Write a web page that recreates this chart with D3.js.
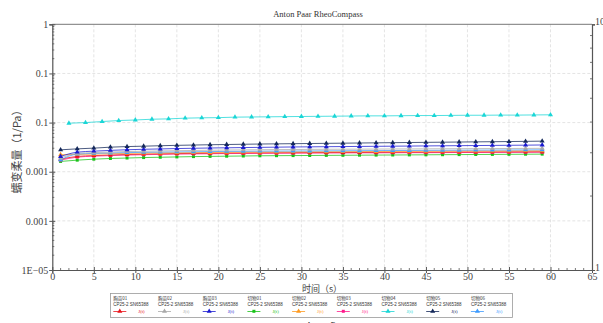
<!DOCTYPE html>
<html><head><meta charset="utf-8">
<script src="https://cdn.jsdelivr.net/npm/d3@7"></script>
<style>body{margin:0;background:#fff}svg{display:block}</style>
</head><body>
<svg id="c" width="603" height="323"></svg>
<script>
const title = "Anton Paar RheoCompass";
const footer = "Anton Paar";
const xLabel = "时间（s）";
const yLabel = "蠕变柔量（1/Pa）";
const xTicks = [0,5,10,15,20,25,30,35,40,45,50,55,60,65];
const yTicks = [1,0.1,0.01,0.001,0.0001,0.00001];
const yTickLabels = ["1","0.1","0.1","0.001","0.001","1E−05"];
const rightTickLabels = ["10","1"];
const tOdd = [1,3,5,7,9,11,13,15,17,19,21,23,25,27,29,31,33,35,37,39,41,43,45,47,49,51,53,55,57,59];
const tEven = [2,4,6,8,10,12,14,16,18,20,22,24,26,28,30,32,34,36,38,40,42,44,46,48,50,52,54,56,58,60];
const names = ["胸苗01","胸苗02","胸苗03","切物01","切物02","切物03","切物04","切物05","切物06"];
const device = "CP25-2 SN65388";
const seriesLabel = "J(t)";
const colors = ["#e8141b","#a9a9a9","#1a1ad0","#19c219","#ff9a1f","#ff1a8c","#1ad6d6","#14285a","#3d9bff"];
const shapes = ["tri","tri","tri","sq","tri","sq","tri","tri","tri"];
const sRed   = [0.00180,0.00205,0.00213,0.00219,0.00224,0.00228,0.00231,0.00234,0.00236,0.00238,0.00240,0.00241,0.00242,0.00243,0.00244,0.00245,0.00246,0.00247,0.00247,0.00248,0.00249,0.00250,0.00250,0.00251,0.00252,0.00252,0.00253,0.00254,0.00254,0.00255];
const sGray  = [0.00190,0.00235,0.00245,0.00252,0.00257,0.00261,0.00265,0.00268,0.00271,0.00274,0.00276,0.00278,0.00280,0.00282,0.00283,0.00285,0.00286,0.00287,0.00288,0.00289,0.00290,0.00291,0.00292,0.00293,0.00294,0.00295,0.00296,0.00297,0.00298,0.00299];
const sBlue  = [0.00204,0.00250,0.00262,0.00272,0.00280,0.00286,0.00291,0.00296,0.00300,0.00304,0.00307,0.00310,0.00313,0.00316,0.00319,0.00321,0.00323,0.00325,0.00327,0.00329,0.00331,0.00333,0.00335,0.00337,0.00339,0.00341,0.00343,0.00345,0.00347,0.00350];
const sGreen = [0.00162,0.00172,0.00180,0.00186,0.00190,0.00194,0.00197,0.00200,0.00203,0.00205,0.00207,0.00209,0.00211,0.00212,0.00213,0.00214,0.00215,0.00216,0.00217,0.00218,0.00219,0.00220,0.00221,0.00222,0.00223,0.00224,0.00225,0.00226,0.00227,0.00228];
const sOrange= [0.00222,0.00225,0.00229,0.00233,0.00236,0.00239,0.00241,0.00243,0.00245,0.00247,0.00249,0.00250,0.00251,0.00252,0.00253,0.00254,0.00255,0.00256,0.00257,0.00258,0.00259,0.00260,0.00261,0.00262,0.00263,0.00264,0.00264,0.00265,0.00266,0.00267];
const sPink  = [0.00172,0.00198,0.00207,0.00213,0.00218,0.00222,0.00225,0.00228,0.00230,0.00232,0.00234,0.00235,0.00236,0.00237,0.00238,0.00239,0.00240,0.00241,0.00242,0.00242,0.00243,0.00244,0.00244,0.00245,0.00246,0.00246,0.00247,0.00247,0.00248,0.00249];
const sCyan  = [0.0097,0.0100,0.0105,0.0110,0.0113,0.0117,0.0119,0.0123,0.0125,0.0126,0.0129,0.0130,0.0131,0.0132,0.0133,0.0134,0.0135,0.0136,0.0137,0.0137,0.0138,0.0139,0.0139,0.0140,0.0141,0.0141,0.0142,0.0142,0.0143,0.0144];
const sNavy  = [0.00279,0.00292,0.00302,0.00316,0.00325,0.00331,0.00338,0.00344,0.00349,0.00354,0.00358,0.00362,0.00366,0.00369,0.00372,0.00375,0.00378,0.00381,0.00384,0.00387,0.00390,0.00393,0.00396,0.00399,0.00402,0.00405,0.00408,0.00411,0.00415,0.00419];
const sLight = [0.00175,0.00228,0.00236,0.00241,0.00245,0.00248,0.00251,0.00253,0.00255,0.00257,0.00259,0.00260,0.00262,0.00263,0.00264,0.00265,0.00266,0.00267,0.00268,0.00269,0.00270,0.00271,0.00272,0.00273,0.00274,0.00275,0.00276,0.00277,0.00278,0.00279];
const seriesValues = [sRed,sGray,sBlue,sGreen,sOrange,sPink,sCyan,sNavy,sLight];
const seriesTimes = [tOdd,tOdd,tOdd,tOdd,tOdd,tOdd,tEven,tOdd,tOdd];

const svg = d3.select("#c");
const L=52.3, R=592, T=24.3, B=270;
const x = d3.scaleLinear().domain([0,65]).range([L,R]);
const y = d3.scaleLog().domain([1e-5,1]).range([B,T]);
const yR = d3.scaleLog().domain([1,10]).range([B,T]);
const serif = "'Liberation Serif','DejaVu Serif',serif";
const cjk = "'Noto Sans CJK SC',sans-serif";

// grid
const g = svg.append("g");
g.selectAll(".vg").data(xTicks.filter(d=>d>0&&d<65)).enter().append("line")
 .attr("x1",d=>x(d)).attr("x2",d=>x(d)).attr("y1",T).attr("y2",B)
 .attr("stroke","#dddddd").attr("stroke-width",0.8).attr("stroke-dasharray","3,2");
g.selectAll(".hg").data(yTicks.filter(d=>d<1&&d>1e-5)).enter().append("line")
 .attr("x1",L).attr("x2",R).attr("y1",d=>y(d)).attr("y2",d=>y(d))
 .attr("stroke","#dddddd").attr("stroke-width",0.8).attr("stroke-dasharray","3,2");
// top border
svg.append("line").attr("x1",L).attr("x2",R).attr("y1",T).attr("y2",T).attr("stroke","#777").attr("stroke-width",1);

// axes
const xAxis = d3.axisBottom(x).tickValues(xTicks).tickSize(3).tickFormat(d=>d);
const gx = svg.append("g").attr("transform",`translate(0,${B})`).call(xAxis);
gx.select(".domain").attr("stroke","#555");
gx.selectAll(".tick line").attr("stroke","#555").attr("y1",-3);
gx.selectAll("text").attr("font-family",serif).attr("font-size",10).attr("fill","#444").attr("y",3).attr("dy","0.71em");
const minorX = d3.range(0,66,1).filter(d=>d%5!==0);
svg.append("g").selectAll("line").data(minorX).enter().append("line")
 .attr("x1",d=>x(d)).attr("x2",d=>x(d)).attr("y1",B-2).attr("y2",B).attr("stroke","#555").attr("stroke-width",0.8);

const yAxis = d3.axisLeft(y).tickValues(yTicks).tickSize(3).tickFormat((d,i)=>yTickLabels[i]);
const gy = svg.append("g").attr("transform",`translate(${L},0)`).call(yAxis);
gy.select(".domain").attr("stroke","#555").attr("stroke-width",1.2);
gy.selectAll(".tick line").attr("stroke","#555").attr("x2",3).attr("x1",-3);
gy.selectAll("text").attr("font-family",serif).attr("font-size",10).attr("fill","#444").attr("x",-4);
const minorY=[];
[1e-5,1e-4,1e-3,1e-2,1e-1].forEach(b=>{for(let k=2;k<10;k++)minorY.push(b*k);});
svg.append("g").selectAll("line").data(minorY).enter().append("line")
 .attr("x1",L).attr("x2",L+2).attr("y1",d=>y(d)).attr("y2",d=>y(d)).attr("stroke","#555").attr("stroke-width",0.8);

// right axis
const yRAxis = d3.axisRight(yR).tickValues([10,1]).tickSize(3).tickFormat((d,i)=>rightTickLabels[i]);
const gr = svg.append("g").attr("transform",`translate(${R},0)`).call(yRAxis);
gr.select(".domain").attr("stroke","#555").attr("stroke-width",1.2);
gr.selectAll(".tick line").attr("stroke","#555");
gr.selectAll("text").attr("font-family",serif).attr("font-size",10).attr("fill","#444").attr("x",3).attr("dy","0.05em");
const minorR = d3.range(2,10);
svg.append("g").selectAll("line").data(minorR).enter().append("line")
 .attr("x1",R-2).attr("x2",R).attr("y1",d=>yR(d)).attr("y2",d=>yR(d)).attr("stroke","#555").attr("stroke-width",0.8);

// series
const line = d3.line().x(d=>x(d[0])).y(d=>y(d[1])).curve(d3.curveMonotoneX);
const tri = d3.symbol().type(d3.symbolTriangle).size(11);
const sq = d3.symbol().type(d3.symbolSquare).size(9);
const order = [3,5,0,4,8,1,2,7,6];
order.forEach(i=>{
  const pts = seriesTimes[i].map((t,j)=>[t,seriesValues[i][j]]);
  svg.append("path").datum(pts).attr("d",line).attr("fill","none")
    .attr("stroke",colors[i]).attr("stroke-width",0.9).attr("opacity",0.85);
  svg.append("g").selectAll("path").data(pts).enter().append("path")
    .attr("d",shapes[i]==="sq"?sq:tri)
    .attr("transform",d=>`translate(${x(d[0])},${y(d[1])})`)
    .attr("fill",colors[i]);
});

// title
svg.append("text").attr("x",318).attr("y",17).attr("text-anchor","middle")
 .attr("font-family",serif).attr("font-size",8.5).attr("fill","#333").text(title);
// axis labels
svg.append("text").attr("x",322).attr("y",291.5).attr("text-anchor","middle")
 .attr("font-family",cjk).attr("font-size",9).attr("fill","#444").text(xLabel);
svg.append("text").attr("transform","translate(21,149) rotate(-90)").attr("text-anchor","middle")
 .attr("font-family",cjk).attr("font-size",11).attr("fill","#444").text(yLabel);

// legend
const lg = svg.append("g");
lg.append("rect").attr("x",110.5).attr("y",293.5).attr("width",402).attr("height",24)
 .attr("fill","#fff").attr("stroke","#999").attr("stroke-width",0.8);
names.forEach((n,i)=>{
  const ex = 113.3 + i*44.7;
  lg.append("text").attr("x",ex).attr("y",300).attr("font-family",cjk).attr("font-size",4.5).attr("fill","#333").text(n);
  lg.append("text").attr("x",ex).attr("y",305.8).attr("font-family","'Liberation Sans',sans-serif").attr("font-size",4.5).attr("fill","#333").text(device);
  lg.append("line").attr("x1",ex).attr("x2",ex+13).attr("y1",311.5).attr("y2",311.5).attr("stroke",colors[i]).attr("stroke-width",0.8);
  lg.append("path").attr("d",shapes[i]==="sq"?sq:tri).attr("transform",`translate(${ex+6.5},${311.3})`).attr("fill",colors[i]);
  lg.append("text").attr("x",ex+25).attr("y",313).attr("font-family",serif).attr("font-size",4.8).attr("fill",colors[i]).text(seriesLabel);
});
// footer
svg.append("text").attr("x",326).attr("y",328).attr("text-anchor","middle")
 .attr("font-family",serif).attr("font-size",9).attr("fill","#333").text(footer);
</script>
</body></html>
